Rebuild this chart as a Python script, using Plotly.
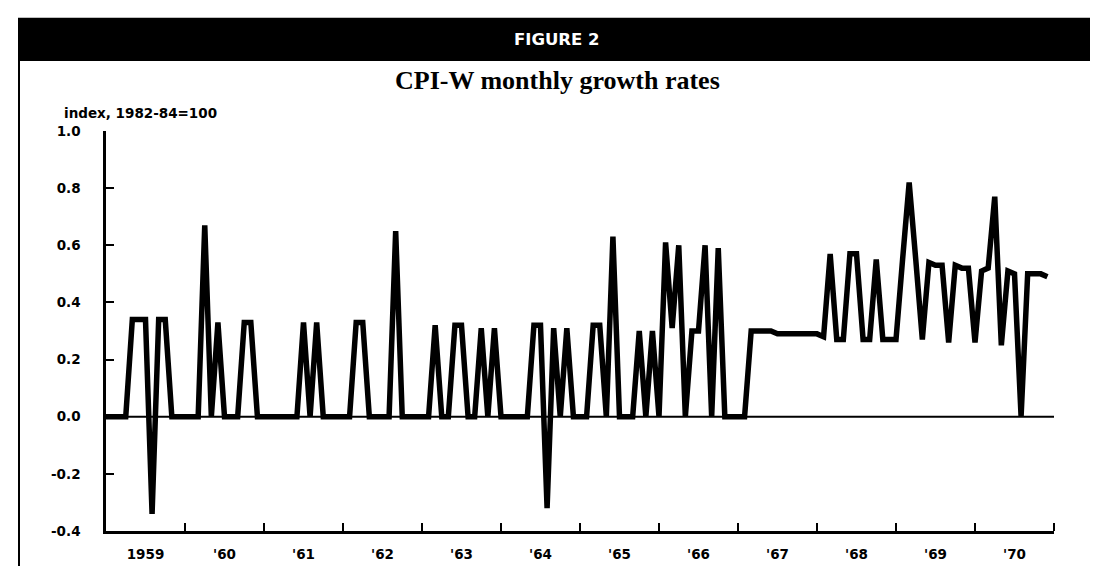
import plotly.graph_objects as go

# ---- data: CPI-W monthly growth rates (percent), Jan..Dec of each year ----
years = [1959, 1960, 1961, 1962, 1963, 1964, 1965, 1966, 1967, 1968, 1969, 1970]
year_labels = ["1959", "'60", "'61", "'62", "'63", "'64", "'65", "'66", "'67", "'68", "'69", "'70"]

rates_1959 = [0, 0, 0, 0, 0.34, 0.34, 0.34, -0.34, 0.34, 0.34, 0, 0]
rates_1960 = [0, 0, 0, 0.67, 0, 0.33, 0, 0, 0, 0.33, 0.33, 0]
rates_1961 = [0, 0, 0, 0, 0, 0, 0.33, 0, 0.33, 0, 0, 0]
rates_1962 = [0, 0, 0.33, 0.33, 0, 0, 0, 0, 0.65, 0, 0, 0]
rates_1963 = [0, 0, 0.32, 0, 0, 0.32, 0.32, 0, 0, 0.31, 0, 0.31]
rates_1964 = [0, 0, 0, 0, 0, 0.32, 0.32, -0.32, 0.31, 0, 0.31, 0]
rates_1965 = [0, 0, 0.32, 0.32, 0, 0.63, 0, 0, 0, 0.30, 0, 0.30]
rates_1966 = [0, 0.61, 0.31, 0.60, 0, 0.30, 0.30, 0.60, 0, 0.59, 0, 0]
rates_1967 = [0, 0, 0.30, 0.30, 0.30, 0.30, 0.29, 0.29, 0.29, 0.29, 0.29, 0.29]
rates_1968 = [0.29, 0.28, 0.57, 0.27, 0.27, 0.57, 0.57, 0.27, 0.27, 0.55, 0.27, 0.27]
rates_1969 = [0.27, 0.55, 0.82, 0.55, 0.27, 0.54, 0.53, 0.53, 0.26, 0.53, 0.52, 0.52]
rates_1970 = [0.26, 0.51, 0.52, 0.77, 0.25, 0.51, 0.50, 0, 0.50, 0.50, 0.50, 0.49]

y_ticks = [1.0, 0.8, 0.6, 0.4, 0.2, 0.0, -0.2, -0.4]
y_tick_labels = ["1.0", "0.8", "0.6", "0.4", "0.2", "0.0", "-0.2", "-0.4"]

all_rates = (rates_1959 + rates_1960 + rates_1961 + rates_1962 + rates_1963 + rates_1964
             + rates_1965 + rates_1966 + rates_1967 + rates_1968 + rates_1969 + rates_1970)
x_vals = [years[0] + i / 12 for i in range(len(all_rates))]

# ---- layout geometry (pixels) ----
W, H = 1098, 566
L, R, T, B = 98, 1046, 123, 529


def px_x(px):
    return (px - L) / (R - L)


def px_y(py):
    return (B - py) / (B - T)


SANS = "DejaVu Sans"
SERIF = "Liberation Serif"
LABEL_SIZE = 13.5

fig = go.Figure()
fig.add_trace(go.Scatter(
    x=x_vals, y=all_rates, mode="lines",
    line=dict(color="black", width=5.5),
    hoverinfo="skip", showlegend=False,
))

shapes = [
    # zero reference line
    dict(type="line", xref="paper", yref="y", x0=0, x1=1, y0=0, y1=0,
         line=dict(color="black", width=2), layer="below"),
    # header band
    dict(type="rect", xref="paper", yref="paper", x0=px_x(10), x1=px_x(1088),
         y0=px_y(52), y1=px_y(8), fillcolor="black", line=dict(width=0)),
    # frame sides
    dict(type="line", xref="paper", yref="paper", x0=px_x(11), x1=px_x(11),
         y0=px_y(52), y1=px_y(H + 5), line=dict(color="black", width=2)),
    dict(type="line", xref="paper", yref="paper", x0=px_x(1087), x1=px_x(1087),
         y0=px_y(52), y1=px_y(H + 5), line=dict(color="black", width=2)),
]

annotations = [
    dict(text="FIGURE 2", xref="paper", yref="paper", x=px_x(549), y=px_y(30),
         showarrow=False, xanchor="center", yanchor="middle",
         font=dict(family=SANS, size=16.5, color="white", weight="bold")),
    dict(text="CPI-W monthly growth rates", xref="paper", yref="paper",
         x=px_x(549), y=px_y(72), showarrow=False, xanchor="center", yanchor="middle",
         font=dict(family=SERIF, size=26, color="black", weight="bold")),
    dict(text="index, 1982-84=100", xref="paper", yref="paper",
         x=px_x(54), y=px_y(105), showarrow=False, xanchor="left", yanchor="middle",
         font=dict(family=SANS, size=LABEL_SIZE, color="black", weight="bold")),
]

fig.update_layout(
    width=W, height=H, autosize=False,
    margin=dict(l=L, r=W - R, t=T, b=H - B, pad=0),
    paper_bgcolor="white", plot_bgcolor="white",
    shapes=shapes, annotations=annotations,
    xaxis=dict(
        range=[years[0], years[-1] + 1],
        tickmode="array",
        tickvals=[y + 0.5 for y in years],
        ticktext=year_labels,
        ticks="", showgrid=False, zeroline=False,
        showline=True, linecolor="black", linewidth=2.5,
        tickfont=dict(family=SANS, size=LABEL_SIZE, color="black", weight="bold"),
        ticklabelstandoff=9,
        minor=dict(tickmode="array", tickvals=[y + 1 for y in years],
                   ticks="inside", ticklen=8, tickwidth=2, tickcolor="black",
                   showgrid=False),
    ),
    yaxis=dict(
        range=[-0.4, 1.0],
        tickmode="array", tickvals=y_ticks, ticktext=y_tick_labels,
        ticks="inside", ticklen=8, tickwidth=2, tickcolor="black",
        showgrid=False, zeroline=False,
        showline=True, linecolor="black", linewidth=2.5,
        tickfont=dict(family=SANS, size=LABEL_SIZE, color="black", weight="bold"),
        ticklabelstandoff=20,
    ),
)

fig.write_html("out.html")
